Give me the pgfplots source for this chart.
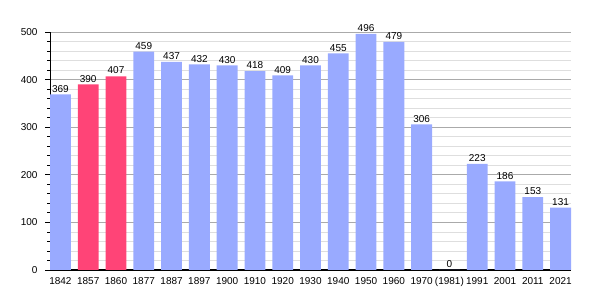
\documentclass[border=0pt]{standalone}
\usepackage{pgfplots}
\pgfplotsset{compat=1.18}
\usepackage{fontspec}
\setmainfont{Liberation Sans}
\definecolor{barblue}{RGB}{153,170,255}
\definecolor{barpink}{RGB}{255,68,119}
\definecolor{majgrid}{RGB}{170,170,170}
\definecolor{mingrid}{RGB}{222,222,222}
\begin{document}
\begin{tikzpicture}[x=1pt,y=1pt]
\useasboundingbox (0,0) rectangle (600,300);
\begin{axis}[
  at={(50pt,30pt)}, anchor=south west,
  scale only axis, width=521pt, height=238pt,
  xmin=-0.375, xmax=18.375, ymin=0, ymax=500,
  axis x line=bottom, axis y line=left,
  axis line style={-, black, line width=1pt},
  xtick={0,...,18},
  xticklabels={1842,1857,1860,1877,1887,1897,1900,1910,1920,1930,1940,1950,1960,1970,(1981),1991,2001,2011,2021},
  major x tick style={draw=none},
  ytick={0,100,...,500},
  minor y tick num=4,
  tick align=outside,
  major tick length=5pt, minor tick length=3pt,
  tick style={black, line width=0.8pt},
  ymajorgrids, yminorgrids,
  major grid style={majgrid, line width=0.8pt},
  minor grid style={mingrid, line width=0.8pt},
  /pgf/number format/assume math mode=true,
  /pgf/number format/1000 sep={},
  ticklabel style={font=\fontsize{10}{11}\selectfont},
  yticklabel style={xshift=-4pt},
  xticklabel style={yshift=1pt},
  clip=false,
  nodes near coords,
  nodes near coords style={font=\fontsize{10}{11}\selectfont, /pgf/number format/assume math mode=true, inner sep=2pt},
]
\addplot[ybar, bar width=0.75, bar shift=0pt, fill=barblue, draw=none] coordinates {
(0,369) (3,459) (4,437) (5,432) (6,430) (7,418) (8,409) (9,430) (10,455) (11,496) (12,479) (13,306) (14,0) (15,223) (16,186) (17,153) (18,131)};
\addplot[ybar, bar width=0.75, bar shift=0pt, fill=barpink, draw=none] coordinates {
(1,390) (2,407)};
\end{axis}
\end{tikzpicture}
\end{document}
